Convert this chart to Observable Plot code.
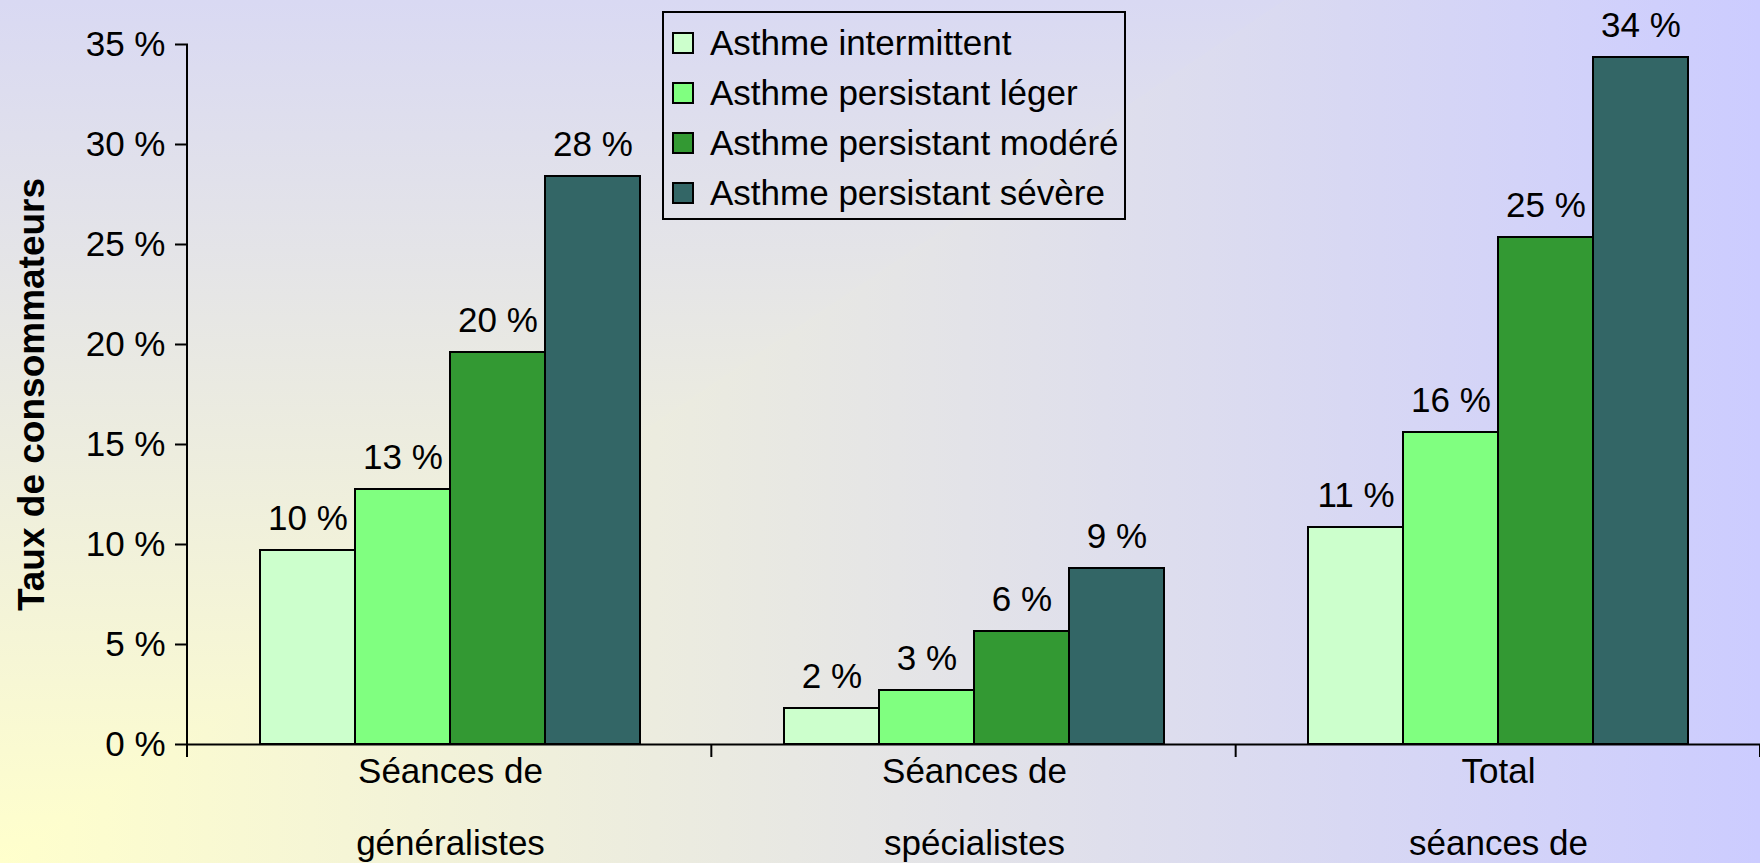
<!DOCTYPE html>
<html>
<head>
<meta charset="utf-8">
<script src="https://cdn.jsdelivr.net/npm/d3@7"></script>
<script src="https://cdn.jsdelivr.net/npm/@observablehq/plot@0.6"></script>
<style>
  html, body { margin: 0; padding: 0; background: #ffffff; }
  #wrap {
    position: relative; width: 1760px; height: 863px; overflow: hidden;
    background: linear-gradient(to right, #ffffcc, #ccccff);
    font-family: "Liberation Sans", Arial, sans-serif;
  }
  #wrap::before {
    content: ""; position: absolute; left: 0; top: 0; width: 100%; height: 100%;
    background: linear-gradient(to top, #ffffcc, #d9d9f3);
    clip-path: polygon(0 0, 73% 0, 0 100%);
  }
  #chart { position: absolute; left: 0; top: 0; }
  #legend {
    position: absolute; left: 662px; top: 11px;
    border: 2px solid #000; padding: 5px 0 0 8px; box-sizing: content-box;
    font-size: 35px; color: #000; height: 200px; width: 452px;
  }
  #legend .row { display: flex; align-items: center; height: 50px; white-space: nowrap; }
  #legend .sw { width: 18px; height: 18px; border: 2px solid #000; margin-right: 16px; flex: none; }
</style>
</head>
<body>
<div id="wrap">
  <div id="chart"></div>
  <div id="legend"></div>
</div>
<script>
const categories = ["Séances de\ngénéralistes", "Séances de\nspécialistes", "Total\nséances de"];
const series = ["Asthme intermittent", "Asthme persistant léger", "Asthme persistant modéré", "Asthme persistant sévère"];
const intermittent = [9.7, 1.8, 10.85];
const persistantLeger = [12.75, 2.7, 15.6];
const persistantModere = [19.6, 5.65, 25.35];
const persistantSevere = [28.4, 8.8, 34.35];
const seriesColors = ["#ccffcc", "#80ff80", "#339933", "#336666"];
const yTicks = [0, 5, 10, 15, 20, 25, 30, 35];
const yTitle = "Taux de consommateurs";

const seriesValues = [intermittent, persistantLeger, persistantModere, persistantSevere];
const data = [];
categories.forEach((c, i) => {
  series.forEach((s, j) => data.push({category: c, series: s, value: seriesValues[j][i]}));
});

const chart = Plot.plot({
  width: 1760,
  height: 863,
  marginLeft: 187,
  marginRight: 0,
  marginTop: 44,
  marginBottom: 119,
  style: {background: "transparent", fontFamily: "'Liberation Sans', Arial, sans-serif", fontSize: "35px", color: "#000", overflow: "visible"},
  fx: {domain: categories, padding: 0, axis: null, label: null},
  x: {domain: series, paddingInner: 0, paddingOuter: 0.75, axis: null},
  y: {domain: [0, 35], axis: null},
  color: {domain: series, range: seriesColors},
  marks: [
    Plot.barY(data, {fx: "category", x: "series", y: "value", fill: "series", stroke: "#000", strokeWidth: 2}),
    Plot.text(data, {fx: "category", x: "series", y: "value", text: d => Math.round(d.value) + " %", lineAnchor: "bottom", dy: -21, fill: "#000"}),
    Plot.ruleY([0], {stroke: "#000", strokeWidth: 2}),
    Plot.axisY(yTicks, {tickSize: 13, tickPadding: 10, strokeWidth: 2, tickFormat: d => d + " %", label: null}),
    Plot.axisY([], {tickSize: 0, label: yTitle, labelAnchor: "center", labelArrow: "none", labelOffset: 171, fontWeight: "bold", fontSize: 37}),
    Plot.axisFx({anchor: "bottom", tickSize: 0, tickPadding: -12, lineHeight: 2.05, label: null})
  ]
});
document.getElementById("chart").appendChild(chart);

// category boundary ticks and y-axis line, positioned with Plot's own scales
const fxS = chart.scale("fx");
const yS = chart.scale("y");
const fxBand = d3.scaleBand(fxS.domain, fxS.range).paddingInner(fxS.paddingInner ?? 0).paddingOuter(fxS.paddingOuter ?? 0).align(fxS.align ?? 0.5);
const yLin = d3.scaleLinear(yS.domain, yS.range);
const last = fxBand.domain()[fxBand.domain().length - 1];
const edges = fxBand.domain().map(c => fxBand(c)).concat([fxBand(last) + fxBand.bandwidth()]);
const g = d3.select(chart).append("g").attr("stroke", "#000").attr("stroke-width", 2);
g.selectAll("line.edge").data(edges).join("line")
  .attr("x1", d => d).attr("x2", d => d)
  .attr("y1", yLin(0)).attr("y2", yLin(0) + 13);
g.append("line").attr("x1", edges[0]).attr("x2", edges[0]).attr("y1", yLin(yS.domain[1])).attr("y2", yLin(0));

// legend
const legend = d3.select("#legend");
series.forEach((s, i) => {
  const row = legend.append("div").attr("class", "row");
  row.append("div").attr("class", "sw").style("background", seriesColors[i]);
  row.append("span").text(s);
});
</script>
</body>
</html>
